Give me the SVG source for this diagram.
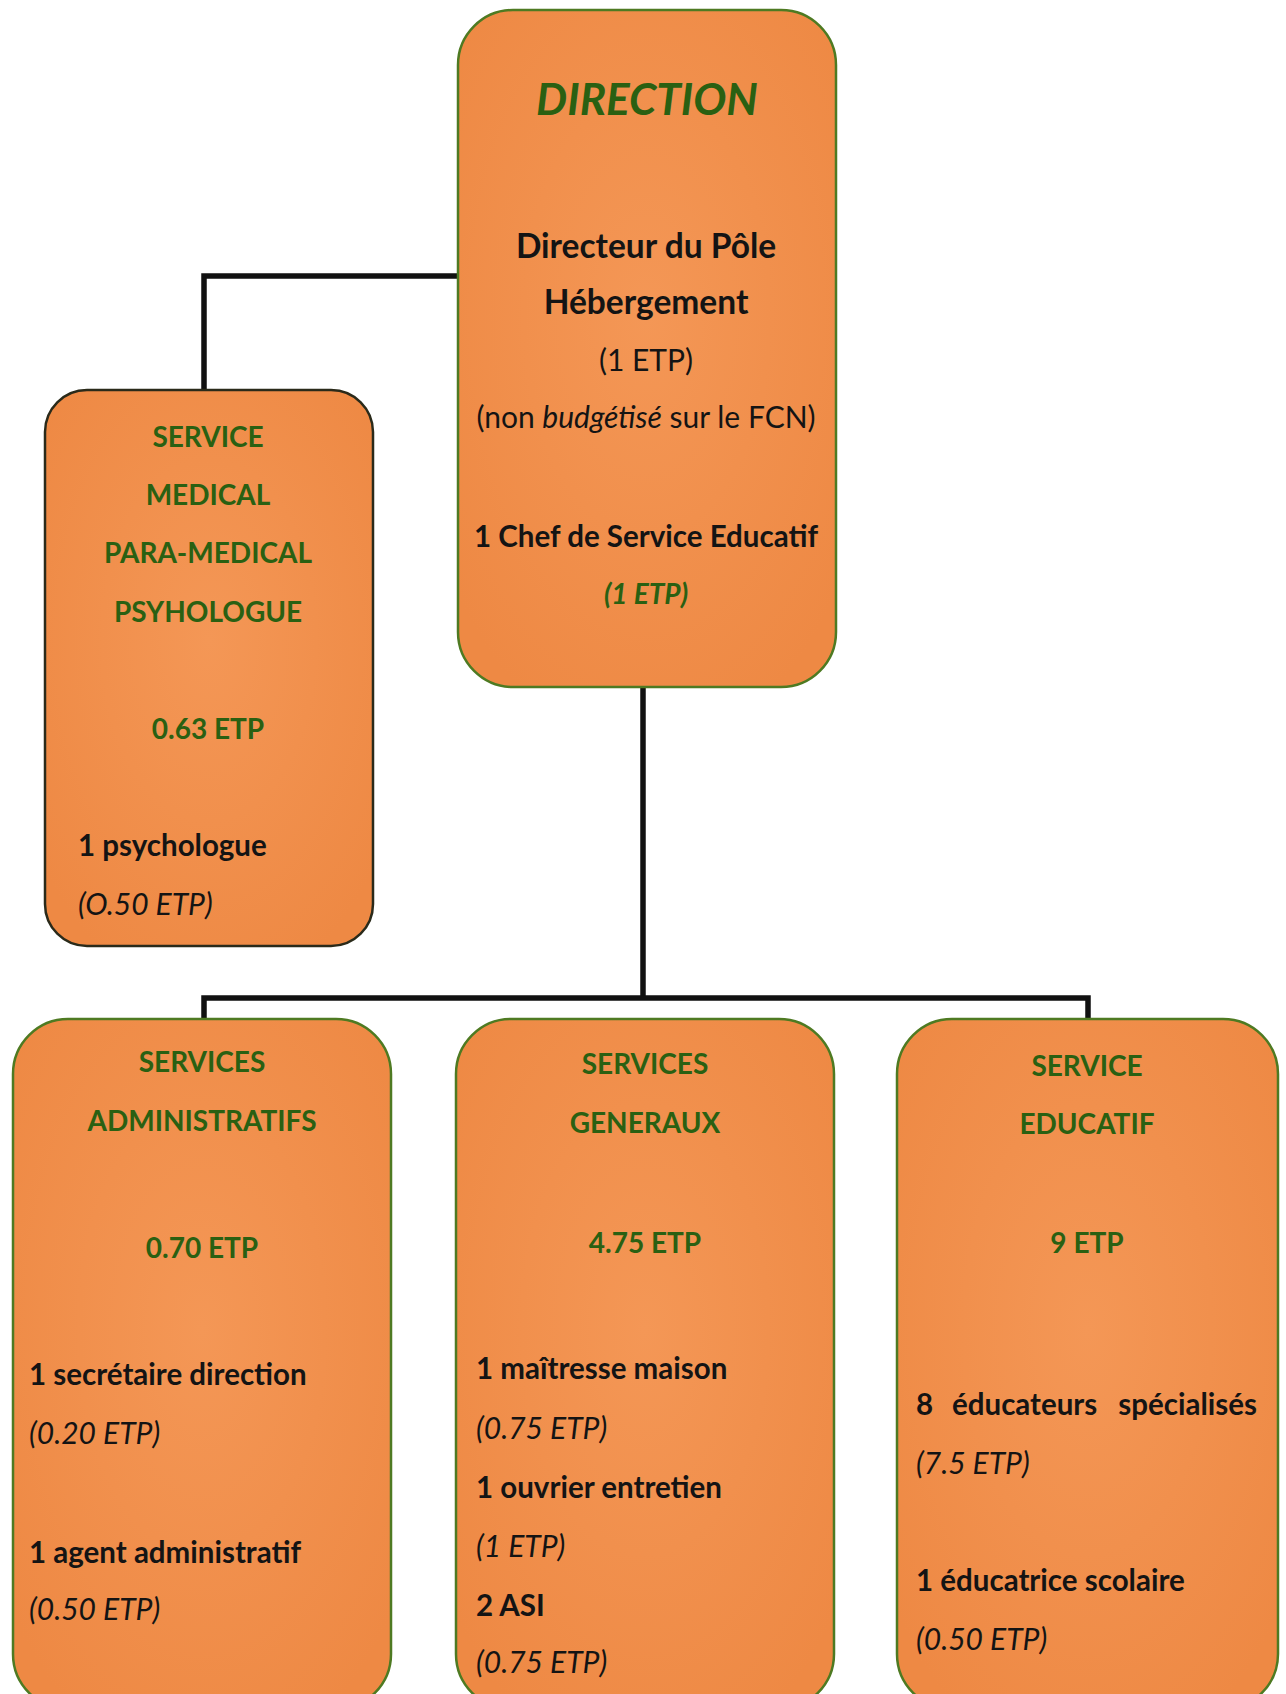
<svg xmlns="http://www.w3.org/2000/svg" width="1286" height="1694" viewBox="0 0 1286 1694">
<defs>
<radialGradient id="og" cx="50%" cy="45%" r="65%">
<stop offset="0" stop-color="#F49756"/>
<stop offset="1" stop-color="#EE8944"/>
</radialGradient>
</defs>
<style>
.box{fill:url(#og);stroke:#4E7A22;stroke-width:2.5}
.boxd{fill:url(#og);stroke:#2A2A1A;stroke-width:2.5}
.con{fill:none;stroke:#111;stroke-width:5.5;stroke-linejoin:miter}
text{font-family:Lato,"Open Sans","Liberation Sans",sans-serif;font-size:29.5px;font-weight:bold;fill:#141414}
.c{text-anchor:middle}
.g{fill:#2A6012;font-size:28px}
.i{font-style:italic;font-weight:normal;font-size:30px}
.r{font-weight:normal;font-size:30px}
.big{font-size:33.5px}
.title{font-size:44px;font-style:italic}
</style>
<rect width="1286" height="1694" fill="#ffffff"/>
<g id="connectors">
<path class="con" d="M459 276 H204 V391"/>
<path class="con" d="M643 687 V998"/>
<path class="con" d="M204 1019 V998 H1088 V1019"/>
</g>
<g id="direction">
<rect class="box" x="458" y="10" width="378" height="677" rx="55" ry="55"/>
<text class="c g title" x="647" y="115">DIRECTION</text>
<text class="c big" x="646" y="258">Directeur du Pôle</text>
<text class="c big" x="646" y="314">Hébergement</text>
<text class="c r" x="646" y="371">(1 ETP)</text>
<text class="c r" x="646" y="428">(non <tspan font-style="italic">budgétisé</tspan> sur le FCN)</text>
<text class="c" x="646" y="547">1 Chef de Service Educatif</text>
<text class="c g" x="646" y="604" font-style="italic">(1 ETP)</text>
</g>
<g id="medical">
<rect class="boxd" x="45" y="390" width="328" height="556" rx="42" ry="42"/>
<text class="c g" x="208" y="447">SERVICE</text>
<text class="c g" x="208" y="505">MEDICAL</text>
<text class="c g" x="208" y="563">PARA-MEDICAL</text>
<text class="c g" x="208" y="622">PSYHOLOGUE</text>
<text class="c g" x="208" y="739">0.63 ETP</text>
<text x="78" y="856">1 psychologue</text>
<text class="i" x="78" y="915">(O.50 ETP)</text>
</g>
<g id="admin">
<rect class="box" x="13" y="1019" width="378" height="690" rx="55" ry="55"/>
<text class="c g" x="202" y="1072">SERVICES</text>
<text class="c g" x="202" y="1131">ADMINISTRATIFS</text>
<text class="c g" x="202" y="1258">0.70 ETP</text>
<text x="29" y="1385">1 secrétaire direction</text>
<text class="i" x="29" y="1444">(0.20 ETP)</text>
<text x="29" y="1563">1 agent administratif</text>
<text class="i" x="29" y="1620">(0.50 ETP)</text>
</g>
<g id="generaux">
<rect class="box" x="456" y="1019" width="378" height="690" rx="55" ry="55"/>
<text class="c g" x="645" y="1074">SERVICES</text>
<text class="c g" x="645" y="1133">GENERAUX</text>
<text class="c g" x="645" y="1253">4.75 ETP</text>
<text x="476" y="1379">1 maîtresse maison</text>
<text class="i" x="476" y="1439">(0.75 ETP)</text>
<text x="476" y="1498">1 ouvrier entretien</text>
<text class="i" x="476" y="1557">(1 ETP)</text>
<text x="476" y="1616">2 ASI</text>
<text class="i" x="476" y="1673">(0.75 ETP)</text>
</g>
<g id="educatif">
<rect class="box" x="897" y="1019" width="381" height="690" rx="55" ry="55"/>
<text class="c g" x="1087" y="1076">SERVICE</text>
<text class="c g" x="1087" y="1134">EDUCATIF</text>
<text class="c g" x="1087" y="1253">9 ETP</text>
<text y="1415"><tspan x="916">8</tspan><tspan x="952">éducateurs</tspan><tspan x="1257" text-anchor="end">spécialisés</tspan></text>
<text class="i" x="916" y="1474">(7.5 ETP)</text>
<text x="916" y="1591">1 éducatrice scolaire</text>
<text class="i" x="916" y="1650">(0.50 ETP)</text>
</g>
</svg>
